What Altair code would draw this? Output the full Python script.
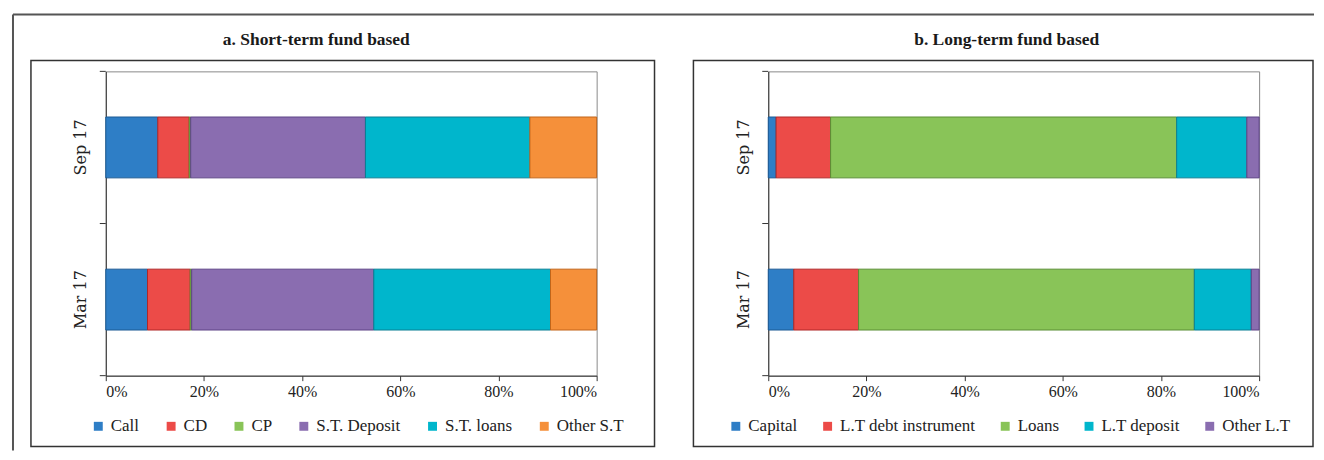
import altair as alt
import pandas as pd

periods = ["Sep 17", "Mar 17"]

st_categories = ["Call", "CD", "CP", "S.T. Deposit", "S.T. loans", "Other S.T"]
st_sep17 = [10.6, 6.4, 0.3, 35.6, 33.5, 13.6]
st_mar17 = [8.5, 8.7, 0.3, 37.1, 36.0, 9.4]

lt_categories = ["Capital", "L.T debt instrument", "Loans", "L.T deposit", "Other L.T"]
lt_sep17 = [1.6, 11.1, 70.5, 14.3, 2.5]
lt_mar17 = [5.2, 13.2, 68.4, 11.6, 1.6]

panel_titles = ["a. Short-term fund based", "b. Long-term fund based"]
x_tick_values = [0, 0.2, 0.4, 0.6, 0.8, 1.0]
category_bounds = [0, 1, 2]

st_colors = ["#2e7ec6", "#ec4b48", "#89c458", "#8a6db0", "#00b6cc", "#f5903a"]
st_strokes = ["#1c5a95", "#b02828", "#5a8f34", "#5d4487", "#0a8094", "#c26419"]
lt_colors = ["#2e7ec6", "#ec4b48", "#89c458", "#00b6cc", "#8a6db0"]
lt_strokes = ["#1c5a95", "#b02828", "#5a8f34", "#0a8094", "#5d4487"]

SERIF = "Liberation Serif"


def panel(categories, sep, mar, colors, strokes, title_text, title_x,
          legend_x, legend_pad, box_right, outer=False):
    rows = []
    for i, c in enumerate(categories):
        rows.append({"period": periods[0], "cat": c, "val": sep[i], "idx": i})
        rows.append({"period": periods[1], "cat": c, "val": mar[i], "idx": i})
    df = pd.DataFrame(rows)

    bars = alt.Chart(df).mark_bar(strokeWidth=1).encode(
        y=alt.Y("period:N", sort=periods,
                scale=alt.Scale(paddingInner=0.6, paddingOuter=0.3),
                axis=alt.Axis(title=None, labelAngle=270, labelAlign="center",
                              labelBaseline="bottom", ticks=False,
                              domainColor="#333333", labelFont="DejaVu Serif",
                              labelFontSize=16, labelPadding=17,
                              labelColor="#222222")),
        x=alt.X("val:Q", stack="normalize",
                scale=alt.Scale(domain=[0, 1], nice=False),
                axis=alt.Axis(title=None, format=".0%", values=x_tick_values,
                              grid=False, tickSize=5, tickColor="#333333",
                              domainColor="#333333", labelFont=SERIF,
                              labelFontSize=16, labelPadding=3,
                              labelColor="#222222")),
        color=alt.Color("cat:N", scale=alt.Scale(domain=categories, range=colors),
                        legend=alt.Legend(title=None, orient="none",
                                          legendX=legend_x, legendY=347,
                                          direction="horizontal",
                                          symbolType="square", symbolSize=80,
                                          symbolStrokeWidth=0,
                                          labelFont=SERIF, labelFontSize=17,
                                          labelColor="#222222", labelOffset=4,
                                          columnPadding=legend_pad, padding=0)),
        stroke=alt.Stroke("cat:N", scale=alt.Scale(domain=categories, range=strokes),
                          legend=None),
        order=alt.Order("idx:Q"),
    )

    ticks = alt.Chart(pd.DataFrame({"b": category_bounds})).mark_rule(
        color="#333333", strokeWidth=1).encode(
        y=alt.Y("b:Q", scale=alt.Scale(domain=[0, 2]), axis=None),
        x=alt.value(-6), x2=alt.value(0),
    )

    one = alt.Data(values=[{"t": title_text}])
    title = alt.Chart(one).mark_text(
        font=SERIF, fontWeight="bold", fontSize=17.5, color="#1a1a1a",
        align="center", baseline="middle").encode(
        text="t:N", x=alt.value(title_x), y=alt.value(-31))

    box = alt.Chart(one).mark_rect(
        fill="white", fillOpacity=0, stroke="#333333", strokeWidth=1.5).encode(
        x=alt.value(-75), x2=alt.value(box_right),
        y=alt.value(-11), y2=alt.value(376))

    layers = [box, title, bars, ticks]
    if outer:
        top_line = alt.Chart(one).mark_rule(color="#555555", strokeWidth=2).encode(
            x=alt.value(-93), x2=alt.value(1211), y=alt.value(-57))
        left_line = alt.Chart(one).mark_rule(color="#555555", strokeWidth=2).encode(
            x=alt.value(-93), y=alt.value(-57), y2=alt.value(380))
        layers = [top_line, left_line] + layers

    return alt.layer(*layers).resolve_scale(y="independent").properties(
        width=492, height=305)


left = panel(st_categories, st_sep17, st_mar17, st_colors, st_strokes,
             panel_titles[0], 211, -16, 23, 550, outer=True)
right = panel(lt_categories, lt_sep17, lt_mar17, lt_colors, lt_strokes,
              panel_titles[1], 239, -41, 21, 546)

chart = alt.hconcat(left, right, spacing=172, bounds="flush").resolve_scale(
    color="independent", stroke="independent"
).resolve_legend(color="independent").properties(
    padding={"left": 3, "top": 4, "right": 0, "bottom": 0},
    background="white",
).configure_view(stroke="#8a8a8a", strokeWidth=1)

chart.save("out.html", embed_options={"renderer": "svg", "actions": False})
